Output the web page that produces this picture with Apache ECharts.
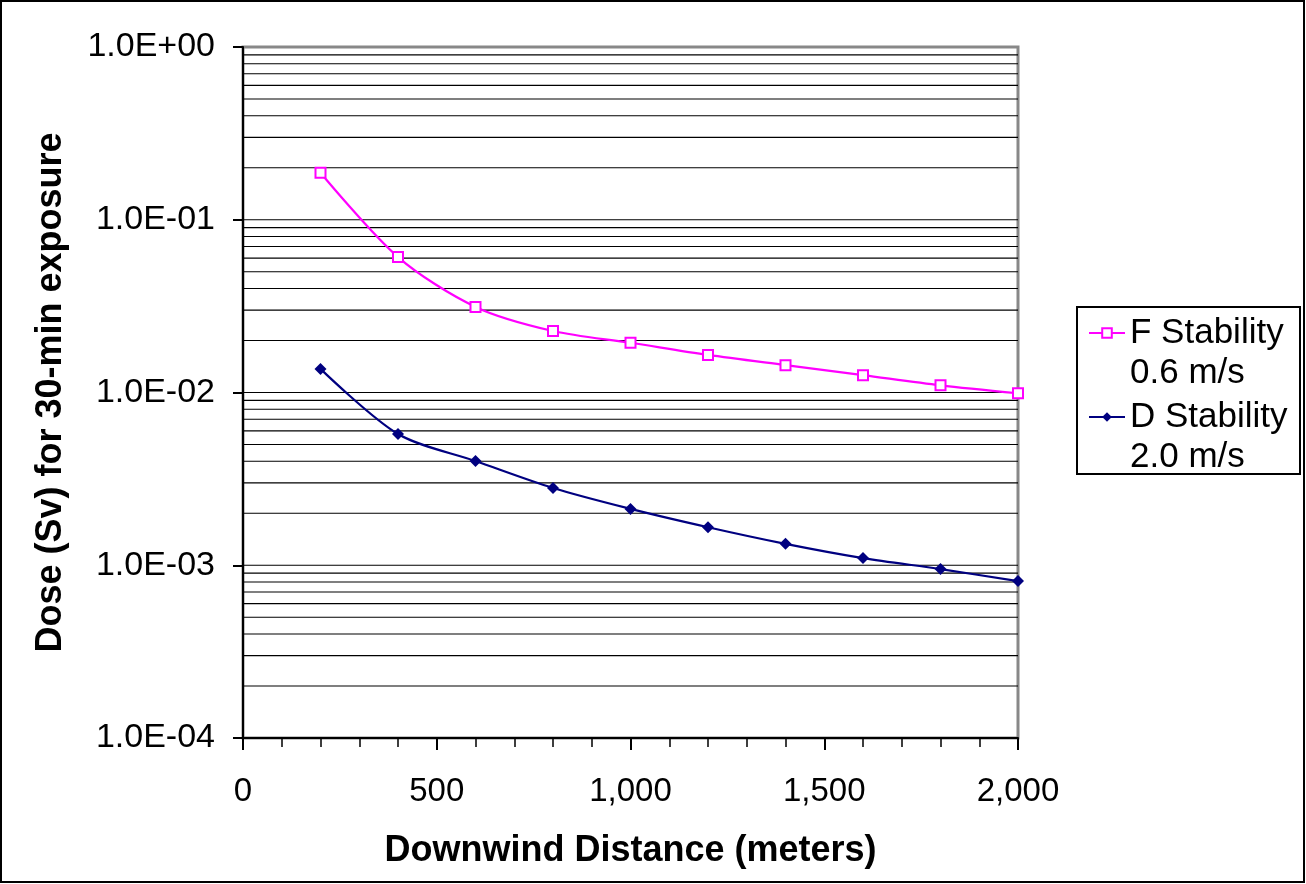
<!DOCTYPE html>
<html><head><meta charset="utf-8">
<script src="https://cdn.jsdelivr.net/npm/echarts@6/dist/echarts.min.js"></script>
<style>html,body{margin:0;padding:0;background:#fff}#c{width:1306px;height:884px}</style>
</head><body><div id="c"></div>
<script>
const distances = [200, 400, 600, 800, 1000, 1200, 1400, 1600, 1800, 2000];
const fStability = [0.187, 0.0608, 0.0313, 0.0227, 0.0194, 0.0165, 0.0144, 0.0126, 0.0110, 0.0099];
const dStability = [0.0137, 0.00575, 0.00401, 0.0028, 0.00212, 0.00166, 0.00133, 0.0011, 0.00095, 0.00081];
const seriesNames = ['F Stability', 'D Stability'];
const seriesSub = ['0.6 m/s', '2.0 m/s'];
const xTitle = 'Downwind Distance (meters)';
const yTitle = 'Dose (Sv) for 30-min exposure';
const decades = [1e-4, 1e-3, 1e-2, 1e-1];
const gridMultipliers = [1, 2, 3, 4, 5, 6, 7, 8, 9];

const gridValues = [];
decades.forEach(d => gridMultipliers.forEach(k => { const v = +(d * k).toPrecision(3); if (v > 1e-4) gridValues.push(v); }));

const font = 'Liberation Sans, Arial, sans-serif';
const gridSeries = gridValues.map(v => ({
  type: 'line', silent: true, symbol: 'none', z: 1,
  data: [[0, v], [2000, v]],
  lineStyle: { color: '#000', width: 1.2 },
  tooltip: { show: false }
}));

const chart = echarts.init(document.getElementById('c'));
chart.setOption({
  animation: false,
  backgroundColor: '#fff',
  textStyle: { fontFamily: font, color: '#000' },
  graphic: [
    { type: 'rect', shape: { x: 1, y: 1, width: 1303, height: 881 }, style: { fill: 'none', stroke: '#000', lineWidth: 2 }, silent: true },
    { type: 'rect', shape: { x: 1077, y: 307, width: 223, height: 167 }, style: { fill: '#fff', stroke: '#000', lineWidth: 2 }, silent: true, z: -1 }
  ],
  grid: { left: 243, right: 288, top: 47, bottom: 146, show: true, borderColor: '#888', borderWidth: 3, backgroundColor: 'transparent' },
  legend: {
    orient: 'vertical', left: 1088, top: 273,
    padding: 0, itemGap: -36,
    itemWidth: 36, itemHeight: 12,
    formatter: name => ' \n' + name + '\n' + seriesSub[seriesNames.indexOf(name)],
    textStyle: { fontSize: 35, fontFamily: font, color: '#000', lineHeight: 40 },
    data: seriesNames
  },
  xAxis: {
    type: 'value', min: 0, max: 2000, interval: 500,
    name: xTitle, nameLocation: 'middle', nameGap: 95,
    nameTextStyle: { fontSize: 36, fontWeight: 'bold', color: '#000', fontFamily: font },
    axisLine: { lineStyle: { color: '#000', width: 2 } },
    axisTick: { length: 12, lineStyle: { color: '#000', width: 2 } },
    minorTick: { show: true, splitNumber: 5, length: 9, lineStyle: { color: '#000', width: 1.5 } },
    axisLabel: { fontSize: 33, color: '#000', margin: 37, formatter: v => v.toLocaleString('en-US') },
    splitLine: { show: false }
  },
  yAxis: {
    type: 'log', logBase: 10, min: 1e-4, max: 1,
    name: yTitle, nameLocation: 'middle', nameGap: 174, nameRotate: 90,
    nameTextStyle: { fontSize: 36, fontWeight: 'bold', color: '#000', fontFamily: font },
    axisLine: { show: true, lineStyle: { color: '#000', width: 2 } },
    axisTick: { show: true, length: 10, lineStyle: { color: '#000', width: 2 } },
    axisLabel: { fontSize: 34, color: '#000', margin: 28, formatter: v => {
      const e = Math.round(Math.log10(v));
      return '1.0E' + (e < 0 ? '-' : '+') + String(Math.abs(e)).padStart(2, '0');
    } },
    splitLine: { show: false }
  },
  series: gridSeries.concat([
    {
      name: seriesNames[0], type: 'line', smooth: 0.3, z: 3,
      data: distances.map((d, i) => [d, fStability[i]]),
      lineStyle: { color: '#ff00ff', width: 2.2 },
      itemStyle: { color: '#ff00ff', borderWidth: 2 },
      symbol: 'emptyRect', symbolSize: 10
    },
    {
      name: seriesNames[1], type: 'line', smooth: 0.3, z: 3,
      data: distances.map((d, i) => [d, dStability[i]]),
      lineStyle: { color: '#000080', width: 2.2 },
      itemStyle: { color: '#000080' },
      symbol: 'diamond', symbolSize: 12
    }
  ])
});
</script></body></html>
